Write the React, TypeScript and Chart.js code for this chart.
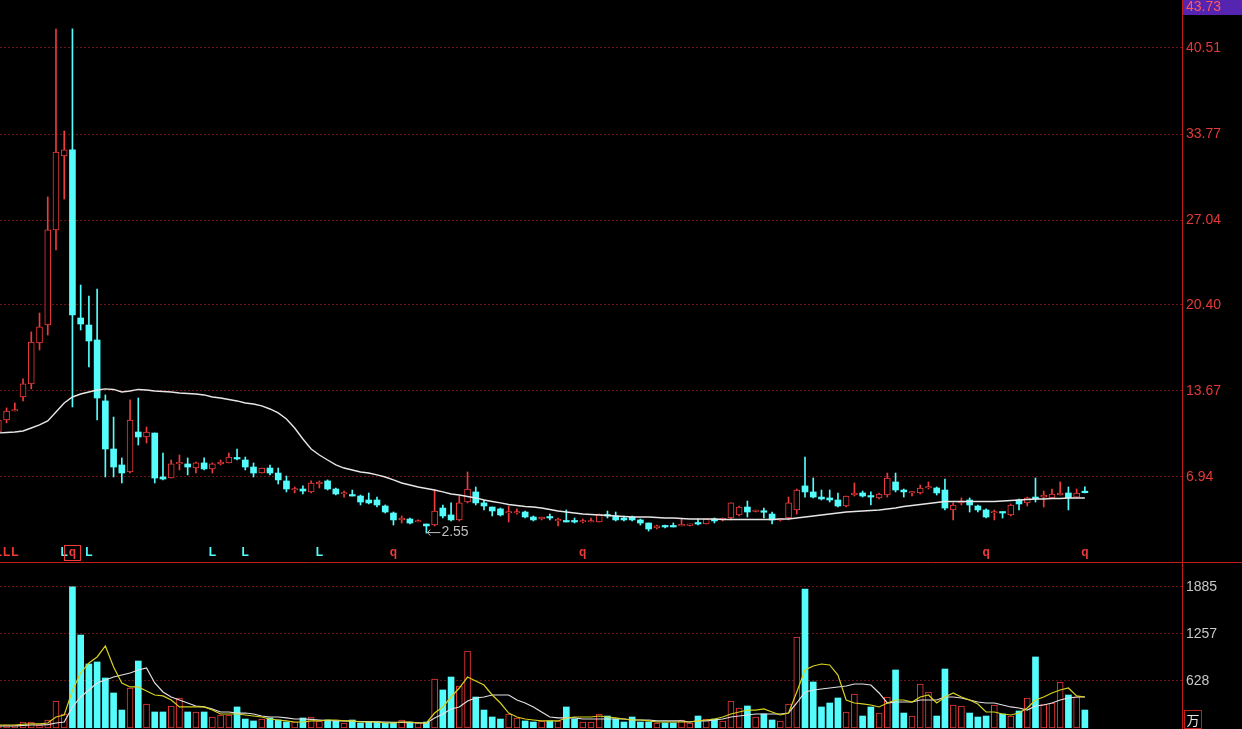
import React, { useEffect, useRef } from 'react';
import { Chart, registerables } from 'chart.js';

Chart.register(...registerables);

// ---------------- data ----------------
const opens = [
  10.46, 11.40, 12.10, 13.20, 14.22, 17.43, 18.83, 26.27, 32.06, 32.53,
  19.38, 18.83, 17.66, 12.89, 9.13, 7.88, 7.33, 10.46, 10.07, 10.38,
  6.94, 6.86, 7.96, 7.96, 7.64, 8.04, 7.57, 7.96, 8.04, 8.43,
  8.27, 7.72, 7.25, 7.64, 7.25, 6.63, 5.92, 6.00, 5.77, 6.39,
  6.63, 6.00, 5.61, 5.53, 5.45, 5.14, 5.14, 4.67, 4.12, 3.58,
  3.65, 3.42, 3.26, 3.18, 4.51, 3.97, 3.58, 4.98, 5.77, 4.91,
  4.59, 4.44, 4.12, 4.12, 4.20, 3.81, 3.65, 3.81, 3.50, 3.50,
  3.50, 3.42, 3.42, 3.42, 3.97, 3.89, 3.73, 3.81, 3.58, 3.34,
  2.95, 3.11, 3.11, 3.11, 3.15, 3.34, 3.26, 3.65, 3.58, 3.73,
  3.97, 4.59, 4.24, 4.24, 4.04, 3.56, 3.73, 4.36, 6.24, 5.77,
  5.37, 5.30, 5.14, 4.67, 5.53, 5.69, 5.45, 5.30, 5.53, 6.55,
  5.92, 5.69, 5.69, 6.08, 6.08, 5.92, 4.36, 4.91, 5.14, 4.67,
  4.36, 4.12, 4.20, 3.97, 5.14, 4.91, 5.37, 5.37, 5.30, 5.53,
  5.69, 5.37, 5.77,
];
const highs = [
  11.79, 12.34, 12.73, 14.61, 18.29, 19.77, 28.85, 41.99, 34.01, 42.00,
  21.96, 21.10, 21.65, 13.36, 11.63, 8.43, 12.97, 13.12, 10.85, 10.38,
  8.82, 8.27, 8.66, 8.43, 8.11, 8.43, 8.04, 8.27, 8.82, 9.13,
  8.50, 8.04, 7.64, 7.88, 7.64, 7.02, 6.16, 6.24, 6.63, 6.63,
  6.71, 6.08, 5.84, 5.92, 5.53, 5.69, 5.37, 4.75, 4.20, 3.89,
  3.73, 3.58, 3.26, 5.92, 4.75, 4.91, 5.45, 7.33, 6.16, 5.14,
  4.59, 4.51, 4.67, 4.44, 4.28, 3.89, 3.81, 4.04, 3.73, 4.36,
  3.73, 3.65, 3.73, 4.04, 4.28, 4.20, 3.89, 3.89, 3.65, 3.34,
  3.18, 3.18, 3.34, 3.65, 3.26, 3.65, 3.65, 3.73, 3.73, 4.91,
  4.67, 5.06, 4.36, 4.51, 4.20, 3.65, 5.37, 6.00, 8.50, 6.86,
  5.92, 5.92, 5.69, 5.45, 6.47, 5.84, 5.77, 5.69, 7.25, 7.25,
  6.00, 5.80, 6.31, 6.55, 6.16, 6.78, 4.91, 5.30, 5.30, 4.75,
  4.44, 4.36, 4.20, 4.83, 5.22, 5.37, 6.86, 5.84, 6.00, 6.55,
  6.16, 6.00, 6.16,
];
const lows = [
  10.07, 11.17, 12.10, 12.89, 13.83, 16.88, 18.05, 24.70, 28.69, 12.42,
  18.44, 15.55, 11.40, 6.94, 6.94, 6.47, 7.25, 9.44, 9.60, 6.47,
  6.71, 6.86, 7.49, 7.10, 7.25, 7.49, 7.25, 7.88, 8.04, 8.27,
  7.49, 6.94, 7.25, 7.10, 6.39, 5.77, 5.69, 5.61, 5.69, 6.08,
  5.92, 5.53, 5.37, 5.45, 4.75, 4.83, 4.59, 4.12, 3.18, 3.34,
  3.26, 3.42, 2.55, 3.11, 3.73, 3.50, 3.50, 4.91, 4.75, 4.36,
  3.89, 3.89, 3.42, 4.04, 3.73, 3.50, 3.58, 3.58, 3.11, 3.42,
  3.34, 3.34, 3.42, 3.42, 3.73, 3.50, 3.50, 3.50, 3.18, 2.71,
  2.87, 2.95, 3.03, 3.11, 3.11, 3.18, 3.26, 3.34, 3.50, 3.58,
  3.89, 3.81, 4.20, 3.73, 3.26, 3.50, 3.58, 4.04, 5.37, 5.30,
  5.14, 4.98, 4.59, 4.59, 5.45, 5.37, 4.75, 5.22, 5.37, 5.77,
  5.37, 5.45, 5.61, 6.00, 5.53, 4.36, 3.58, 4.75, 4.20, 4.20,
  3.73, 3.58, 3.73, 3.89, 4.36, 4.67, 4.98, 4.59, 5.30, 5.53,
  4.36, 5.37, 5.69,
];
const closes = [
  11.40, 12.10, 12.18, 14.22, 17.50, 18.68, 26.27, 32.37, 32.53, 19.62,
  18.91, 17.58, 13.12, 9.13, 7.72, 7.25, 11.40, 10.07, 10.46, 6.86,
  6.78, 7.96, 8.04, 7.72, 8.04, 7.57, 7.96, 8.11, 8.50, 8.35,
  7.72, 7.25, 7.64, 7.25, 6.71, 6.00, 6.00, 5.84, 6.47, 6.55,
  6.00, 5.61, 5.69, 5.45, 4.98, 4.91, 4.75, 4.20, 3.58, 3.73,
  3.34, 3.50, 3.11, 4.28, 3.89, 3.58, 4.91, 6.00, 4.91, 4.67,
  4.28, 3.97, 4.20, 4.20, 3.81, 3.58, 3.81, 3.73, 3.58, 3.42,
  3.42, 3.50, 3.50, 4.04, 3.89, 3.58, 3.58, 3.58, 3.34, 2.87,
  3.11, 3.03, 3.03, 3.18, 3.18, 3.26, 3.65, 3.50, 3.65, 4.91,
  4.59, 4.20, 4.28, 4.18, 3.58, 3.60, 4.91, 5.92, 5.77, 5.37,
  5.22, 5.14, 4.67, 5.45, 5.69, 5.45, 5.37, 5.61, 6.86, 5.92,
  5.77, 5.77, 6.08, 6.16, 5.69, 4.51, 4.75, 5.06, 4.75, 4.36,
  3.81, 4.20, 4.12, 4.75, 4.83, 5.30, 5.22, 5.53, 5.61, 5.69,
  5.30, 5.69, 5.71,
];
const priceMA = [
  10.38, 10.42, 10.46, 10.54, 10.77, 11.01, 11.32, 12.03, 12.73, 13.20,
  13.43, 13.59, 13.75, 13.83, 13.79, 13.59, 13.67, 13.79, 13.75, 13.67,
  13.63, 13.59, 13.51, 13.47, 13.43, 13.36, 13.20, 13.12, 13.00, 12.89,
  12.73, 12.65, 12.50, 12.26, 11.95, 11.48, 10.77, 9.91, 9.13, 8.66,
  8.27, 7.88, 7.64, 7.49, 7.33, 7.25, 7.10, 6.94, 6.71, 6.47,
  6.31, 6.16, 6.04, 5.92, 5.77, 5.61, 5.53, 5.41, 5.30, 5.14,
  5.02, 4.91, 4.79, 4.71, 4.63, 4.59, 4.51, 4.40, 4.28, 4.20,
  4.12, 4.04, 4.01, 3.97, 3.93, 3.89, 3.85, 3.81, 3.81, 3.81,
  3.77, 3.73, 3.73, 3.69, 3.65, 3.65, 3.65, 3.65, 3.61, 3.61,
  3.61, 3.61, 3.61, 3.61, 3.61, 3.65, 3.65, 3.73, 3.81, 3.89,
  3.97, 4.04, 4.12, 4.20, 4.24, 4.28, 4.32, 4.36, 4.44, 4.51,
  4.63, 4.71, 4.79, 4.87, 4.94, 5.02, 5.02, 5.02, 5.02, 5.02,
  5.02, 5.02, 5.06, 5.10, 5.14, 5.18, 5.22, 5.22, 5.26, 5.26,
  5.30, 5.30, 5.30,
];
const volumes = [
  40, 40, 40, 80, 80, 40, 107, 361, 187, 1885,
  1242, 855, 882, 668, 468, 240, 534, 895, 321, 214,
  214, 294, 401, 214, 214, 214, 147, 174, 174, 281,
  120, 94, 120, 134, 107, 80, 80, 134, 147, 94,
  107, 94, 67, 107, 67, 80, 80, 67, 67, 107,
  80, 67, 80, 655, 508, 681, 561, 1029, 414, 240,
  147, 120, 187, 134, 94, 80, 94, 94, 94, 281,
  120, 80, 80, 187, 160, 120, 80, 147, 80, 80,
  67, 67, 67, 107, 67, 160, 120, 120, 94, 361,
  267, 294, 147, 187, 107, 94, 321, 1216, 1857, 615,
  281, 334, 401, 214, 454, 160, 281, 200, 414, 775,
  200, 160, 588, 481, 160, 788, 307, 294, 200, 147,
  160, 307, 187, 160, 227, 401, 949, 321, 334, 615,
  441, 414, 240,
];
const volumeMA5 = [
  40, 40, 40, 50, 55, 55, 67, 147, 174, 500,
  735, 868, 949, 1096, 815, 601, 548, 548, 494, 441,
  428, 374, 281, 281, 281, 281, 240, 187, 187, 187,
  174, 160, 147, 120, 107, 94, 80, 80, 94, 94,
  107, 107, 94, 94, 80, 80, 80, 67, 67, 80,
  80, 67, 67, 200, 281, 414, 534, 681, 628, 574,
  441, 334, 200, 147, 120, 107, 94, 94, 94, 134,
  147, 147, 147, 160, 147, 134, 120, 107, 107, 94,
  80, 80, 80, 80, 80, 94, 107, 120, 147, 187,
  214, 240, 240, 254, 214, 174, 200, 481, 775, 828,
  855, 842, 708, 374, 334, 321, 307, 281, 334, 374,
  374, 347, 414, 441, 334, 414, 468, 414, 374, 321,
  214, 214, 187, 174, 200, 267, 374, 414, 468, 508,
  534, 428, 414,
];
const volumeMA10 = [
  27, 27, 27, 35, 40, 40, 45, 67, 80, 281,
  414, 508, 601, 641, 681, 708, 735, 775, 802, 601,
  481, 414, 374, 334, 294, 281, 254, 214, 214, 200,
  200, 187, 160, 147, 147, 134, 120, 120, 114, 107,
  100, 94, 94, 90, 87, 85, 82, 80, 75, 75,
  72, 70, 67, 134, 187, 254, 281, 361, 401, 414,
  441, 441, 441, 374, 334, 281, 214, 147, 134, 134,
  134, 120, 120, 120, 120, 120, 120, 107, 107, 107,
  94, 94, 94, 94, 80, 94, 94, 107, 120, 147,
  160, 174, 187, 187, 187, 187, 200, 334, 481, 508,
  521, 534, 548, 561, 588, 588, 574, 468, 334, 347,
  347, 347, 374, 374, 374, 414, 414, 401, 374, 347,
  334, 334, 307, 281, 267, 240, 294, 307, 334, 374,
  401, 414, 414,
];
const priceTicks = [6.94, 13.67, 20.40, 27.04, 33.77, 40.51];
const volumeTicks = [628, 1257, 1885];
const topPriceText = '43.73';
const lowIndex = 52;
const lowText = '2.55';
const markerIndex = [0, 1, 2, 8, 9, 11, 26, 30, 39, 48, 71, 120, 132];
const markerText = ['L', 'L', 'L', 'L', 'q', 'L', 'L', 'L', 'L', 'q', 'q', 'q', 'q'];
const markerIsRed = [true, true, true, false, true, false, false, false, false, true, true, true, true];
const boxedMarker = 9;
const volumeUnit = '万';

// ---------------- styling ----------------
const W = 1242;
const PRICE_H = 563;
const VOL_H = 166;
const AXIS_W = 60;
const X_MIN = 0.2;
const X_MAX = 143.8;
const P_MIN = 0.21;
const P_MAX = 44.26;
const V_MAX = 2204;
const RED = '#ee3b3b';
const CYAN = '#54fcfc';
const GRID = '#6e1414';
const AXIS_RED = '#c01e1e';
const FONT = 'Arial, "Liberation Sans", sans-serif';

const isUp = (i: number) => closes[i] >= opens[i];

const priceOverlay = {
  id: 'priceOverlay',
  afterDraw(chart: any) {
    const { ctx, chartArea } = chart;
    const xs = chart.scales.x;
    const ys = chart.scales.y;
    ctx.save();
    // separator between panes
    ctx.strokeStyle = AXIS_RED;
    ctx.lineWidth = 1;
    ctx.beginPath();
    ctx.moveTo(0, PRICE_H - 0.5);
    ctx.lineTo(W, PRICE_H - 0.5);
    ctx.stroke();
    // signal markers
    ctx.font = `bold 12px ${FONT}`;
    ctx.textAlign = 'center';
    ctx.textBaseline = 'middle';
    markerIndex.forEach((idx, k) => {
      ctx.fillStyle = markerIsRed[k] ? RED : CYAN;
      ctx.fillText(markerText[k], xs.getPixelForValue(idx), 553);
    });
    const bx = xs.getPixelForValue(boxedMarker);
    ctx.strokeStyle = RED;
    ctx.strokeRect(Math.round(bx) - 7.5, 545.5, 16, 15);
    // lowest price annotation
    const lx = xs.getPixelForValue(lowIndex);
    const ly = ys.getPixelForValue(lows[lowIndex]);
    ctx.strokeStyle = '#bdbdbd';
    ctx.fillStyle = '#bdbdbd';
    ctx.beginPath();
    ctx.moveTo(lx + 1, ly - 0.5);
    ctx.lineTo(lx + 14, ly - 0.5);
    ctx.moveTo(lx + 1, ly - 0.5);
    ctx.lineTo(lx + 4, ly - 3.5);
    ctx.moveTo(lx + 1, ly - 0.5);
    ctx.lineTo(lx + 4, ly + 2.5);
    ctx.stroke();
    ctx.font = `14px ${FONT}`;
    ctx.textAlign = 'left';
    ctx.fillText(lowText, lx + 15, ly - 1);
    // top price label
    ctx.fillStyle = '#5524b0';
    ctx.fillRect(chartArea.right + 1, 0, W - chartArea.right - 1, 15);
    ctx.fillStyle = '#ff5a5a';
    ctx.font = `14px ${FONT}`;
    ctx.textBaseline = 'middle';
    ctx.fillText(topPriceText, chartArea.right + 4, 7.5);
    ctx.restore();
  },
};

const volOverlay = {
  id: 'volOverlay',
  afterDraw(chart: any) {
    const { ctx, chartArea } = chart;
    ctx.save();
    const x0 = chartArea.right + 2;
    ctx.strokeStyle = AXIS_RED;
    ctx.lineWidth = 1;
    ctx.strokeRect(x0 + 0.5, VOL_H - 18.5, 17, 18);
    ctx.fillStyle = '#e6e6e6';
    ctx.font = '13px "Noto Sans CJK SC", sans-serif';
    ctx.textAlign = 'center';
    ctx.textBaseline = 'middle';
    ctx.fillText(volumeUnit, x0 + 9, VOL_H - 9);
    ctx.restore();
  },
};

function yAxis(min: number, max: number, ticks: number[], color: string, fmt: (v: number) => string) {
  return {
    position: 'right',
    min,
    max,
    afterBuildTicks: (s: any) => {
      s.ticks = ticks.map((v) => ({ value: v }));
    },
    afterFit: (s: any) => {
      s.width = AXIS_W;
      s.paddingTop = 0;
      s.paddingBottom = 0;
    },
    grid: { color: GRID, lineWidth: 1, drawTicks: false },
    border: { display: true, color: AXIS_RED, width: 1, dash: [2, 2] },
    ticks: {
      color,
      padding: 4,
      font: { family: FONT, size: 14 },
      callback: (v: any) => fmt(Number(v)),
    },
  };
}

const xAxis = { type: 'linear', min: X_MIN, max: X_MAX, display: false, offset: false };

export default function App() {
  const priceRef = useRef<HTMLCanvasElement | null>(null);
  const volRef = useRef<HTMLCanvasElement | null>(null);

  useEffect(() => {
    const idx = opens.map((_, i) => i);
    const bodyColor = (c: any) => (isUp(c.dataIndex) ? '#000000' : CYAN);
    const edgeColor = (c: any) => (isUp(c.dataIndex) ? RED : CYAN);
    const edgeWidth = (c: any) => (isUp(c.dataIndex) ? 1 : 0);

    const priceChart = new Chart(priceRef.current as HTMLCanvasElement, {
      type: 'bar',
      data: {
        datasets: [
          {
            type: 'line',
            data: idx.map((i) => ({ x: i, y: priceMA[i] })),
            borderColor: '#e6e6e6',
            borderWidth: 1.4,
            pointRadius: 0,
            tension: 0,
            order: 0,
          } as any,
          {
            data: idx.map((i) => ({ x: i, y: [opens[i], closes[i]] })),
            backgroundColor: bodyColor,
            borderColor: edgeColor,
            borderWidth: edgeWidth,
            borderSkipped: false,
            barThickness: 6,
            minBarLength: 1.5,
            grouped: false,
            order: 1,
          },
          {
            data: idx.map((i) => ({ x: i, y: [Math.max(opens[i], closes[i]), highs[i]] })),
            backgroundColor: edgeColor,
            borderWidth: 0,
            barThickness: 1,
            grouped: false,
            order: 2,
          },
          {
            data: idx.map((i) => ({ x: i, y: [lows[i], Math.min(opens[i], closes[i])] })),
            backgroundColor: edgeColor,
            borderWidth: 0,
            barThickness: 1,
            grouped: false,
            order: 2,
          },
        ],
      },
      options: {
        animation: false,
        responsive: false,
        maintainAspectRatio: false,
        events: [],
        layout: { padding: 0 },
        plugins: { legend: { display: false }, tooltip: { enabled: false } },
        scales: {
          x: xAxis,
          y: yAxis(P_MIN, P_MAX, priceTicks, '#e33a3a', (v) => v.toFixed(2)),
        } as any,
      },
      plugins: [priceOverlay],
    } as any);

    const volChart = new Chart(volRef.current as HTMLCanvasElement, {
      type: 'bar',
      data: {
        datasets: [
          {
            type: 'line',
            data: idx.map((i) => ({ x: i, y: volumeMA5[i] })),
            borderColor: '#d6d21c',
            borderWidth: 1.2,
            pointRadius: 0,
            tension: 0,
            order: 0,
          } as any,
          {
            type: 'line',
            data: idx.map((i) => ({ x: i, y: volumeMA10[i] })),
            borderColor: '#e0e0e0',
            borderWidth: 1.2,
            pointRadius: 0,
            tension: 0,
            order: 0,
          } as any,
          {
            data: idx.map((i) => ({ x: i, y: volumes[i] })),
            backgroundColor: bodyColor,
            borderColor: edgeColor,
            borderWidth: edgeWidth,
            borderSkipped: false,
            barThickness: 6,
            grouped: false,
            order: 1,
          },
        ],
      },
      options: {
        animation: false,
        responsive: false,
        maintainAspectRatio: false,
        events: [],
        layout: { padding: { top: 0, bottom: 1, left: 0, right: 0 } },
        plugins: { legend: { display: false }, tooltip: { enabled: false } },
        scales: {
          x: xAxis,
          y: yAxis(0, V_MAX, volumeTicks, '#c8c8c8', (v) => String(Math.round(v))),
        } as any,
      },
      plugins: [volOverlay],
    } as any);

    return () => {
      priceChart.destroy();
      volChart.destroy();
    };
  }, []);

  return (
    <div
      style={{
        position: 'fixed',
        left: 0,
        top: 0,
        width: W,
        height: PRICE_H + VOL_H,
        background: '#000',
        overflow: 'hidden',
      }}
    >
      <canvas
        ref={priceRef}
        width={W}
        height={PRICE_H}
        style={{ position: 'absolute', left: 0, top: 0, display: 'block' }}
      />
      <canvas
        ref={volRef}
        width={W}
        height={VOL_H}
        style={{ position: 'absolute', left: 0, top: PRICE_H, display: 'block' }}
      />
    </div>
  );
}
